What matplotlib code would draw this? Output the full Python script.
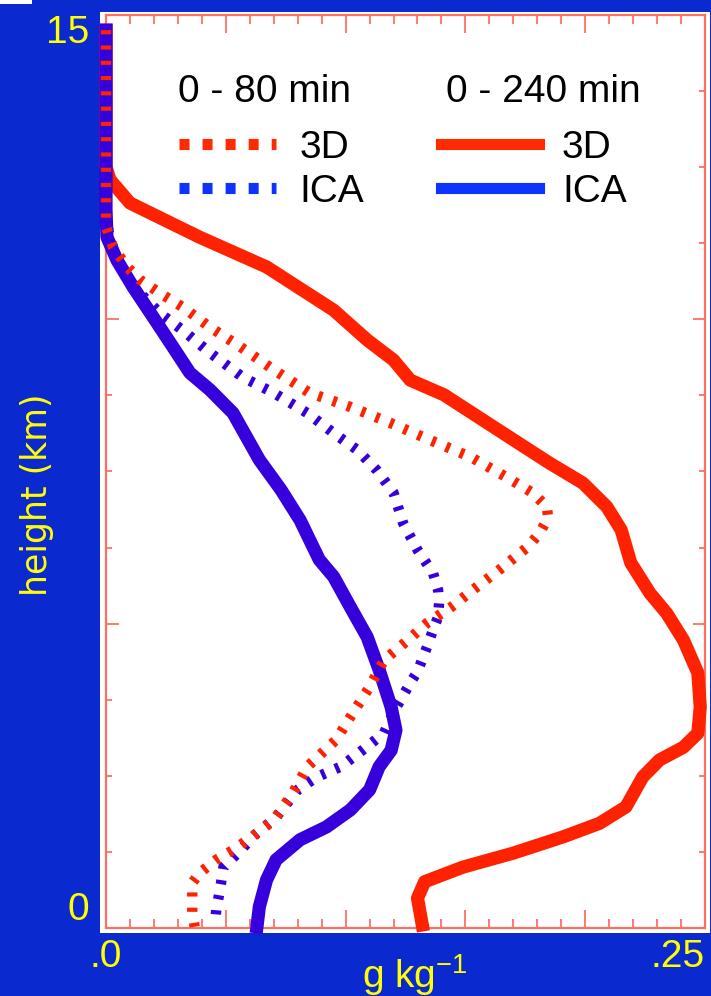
import matplotlib
matplotlib.use("Agg")
import matplotlib.pyplot as plt
from matplotlib.lines import Line2D
from matplotlib.patches import Rectangle
import numpy as np

plt.rcParams['font.family'] = ['Liberation Sans', 'DejaVu Sans']
plt.rcParams['mathtext.default'] = 'regular'
plt.rcParams['lines.scale_dashes'] = False

# mixing ratio profiles (g/kg) against height (km)
h_3d_240 = [14.75, 12.5, 12.29, 11.91, 11.35, 10.86, 10.15, 9.66, 9.33, 9.00, 8.76, 7.97, 7.64,
            7.31, 6.92, 6.54, 6.00, 5.50, 5.17, 4.73, 4.19, 3.63, 3.20, 2.97, 2.76, 2.48,
            1.99, 1.72, 1.50, 1.23, 1.00, 0.76, 0.49, 0.05]
q_3d_240 = [0.0, 0.0, 0.0017, 0.010, 0.039, 0.067, 0.095, 0.109, 0.120, 0.127, 0.141, 0.172, 0.185,
            0.199, 0.209, 0.215, 0.219, 0.227, 0.234, 0.241, 0.247, 0.248, 0.247, 0.241, 0.231, 0.224,
            0.217, 0.206, 0.191, 0.170, 0.149, 0.133, 0.130, 0.132]

h_ica_240 = [14.75, 11.80, 11.35, 10.97, 10.53, 10.04, 9.54, 9.12, 8.84, 8.46, 7.69, 7.20, 6.70,
             6.05, 5.77, 5.27, 4.78, 4.24, 3.63, 3.25, 2.92, 2.65, 2.27, 1.94, 1.66, 1.45,
             1.12, 0.79, 0.35, 0.02]
q_ica_240 = [0.0, 0.0, 0.0004, 0.0046, 0.0113, 0.0196, 0.028, 0.035, 0.0434, 0.053, 0.064, 0.073, 0.081,
             0.089, 0.095, 0.102, 0.109, 0.114, 0.119, 0.121, 0.119, 0.114, 0.110, 0.102, 0.092, 0.081,
             0.071, 0.067, 0.064, 0.063]

h_3d_80 = [14.75, 11.52, 11.19, 10.86, 10.65, 10.43, 10.20, 9.87, 9.55, 9.17, 8.79, 8.56, 8.30,
           8.02, 7.74, 7.41, 7.15, 6.92, 6.74, 6.49, 6.26, 5.88, 5.55, 5.27, 5.01, 4.73, 4.40,
           3.96, 3.53, 3.09, 2.65, 2.22, 1.77, 1.50, 1.28, 1.12, 0.90, 0.74, 0.49, 0.26, 0.02]
q_3d_80 = [0.0, 0.0, 0.0029, 0.0088, 0.0142, 0.0225, 0.032, 0.0434, 0.056, 0.070, 0.085, 0.102, 0.1185,
           0.135, 0.152, 0.167, 0.178, 0.184, 0.1845, 0.181, 0.176, 0.164, 0.153, 0.144, 0.134, 0.126, 0.116,
           0.110, 0.103, 0.096, 0.084, 0.078, 0.070, 0.061, 0.053, 0.046, 0.039, 0.036, 0.036, 0.036, 0.037]

h_ica_80 = [14.75, 11.71, 11.30, 10.81, 10.43, 10.10, 9.82, 9.45, 9.05, 8.79, 8.46, 8.13, 7.85, 7.52,
            7.15, 6.65, 6.21, 5.83, 5.55, 5.34, 5.11, 4.90, 4.62, 4.21, 4.03, 3.75, 3.55, 3.20,
            2.92, 2.65, 2.48, 2.27, 1.82, 1.56, 1.23, 1.00, 0.74, 0.51, 0.30, 0.05]
q_ica_80 = [0.0, 0.0, 0.0017, 0.0071, 0.0142, 0.0225, 0.032, 0.0434, 0.057, 0.070, 0.084, 0.095, 0.105, 0.113,
            0.120, 0.124, 0.130, 0.1365, 0.1386, 0.139, 0.1386, 0.1365, 0.134, 0.130, 0.127, 0.123, 0.120, 0.116,
            0.107, 0.098, 0.088, 0.080, 0.071, 0.063, 0.055, 0.049, 0.048, 0.047, 0.046, 0.0455]

xtick_vals = [0.0, 0.05, 0.10, 0.15, 0.20, 0.25]
xtick_labels = ['.0', '', '', '', '', '.25']
ytick_vals = [0, 5, 10, 15]
ytick_labels = ['0', '', '', '15']

BG = '#0a2ad0'
YEL = '#ffff00'
RED = '#ff2200'
BLUE = '#3600dc'
FRAME = '#ff6f61'

fig = plt.figure(figsize=(7.11, 9.96), dpi=100, facecolor=BG)
fig.patches.append(Rectangle((0.1406, 0.0633), 0.858, 0.9247, transform=fig.transFigure,
                             facecolor='white', edgecolor='none', zorder=-1))
fig.patches.append(Rectangle((0, 1 - 4 / 996), 32 / 711, 4 / 996, transform=fig.transFigure,
                             facecolor='white', edgecolor='none', zorder=-1))

ax = fig.add_axes([0.1491, 0.0683, 0.8425, 0.9167])
ax.set_facecolor('white')

dots = (0, (3.0, 8.0))
ax.plot(q_3d_240, h_3d_240, color=RED, lw=9.5, solid_joinstyle='round', clip_on=False, zorder=3)
ax.plot(q_ica_240, h_ica_240, color=BLUE, lw=9.5, solid_joinstyle='round', clip_on=False, zorder=4)
ax.plot(q_ica_80, h_ica_80, color=BLUE, lw=7.5, linestyle=dots, clip_on=False, zorder=5)
ax.plot(q_3d_80, h_3d_80, color=RED, lw=7.5, linestyle=dots, clip_on=False, zorder=6)

ax.set_xlim(0, 0.25)
ax.set_ylim(0, 15)

ax.set_xticks(xtick_vals)
ax.set_xticklabels(xtick_labels)
ax.set_xticks(np.arange(0, 0.2501, 0.01), minor=True)
ax.set_yticks(ytick_vals)
ax.set_yticklabels(ytick_labels)
ax.set_yticks(np.arange(0, 15.01, 1.25), minor=True)

ax.tick_params(axis='x', which='both', direction='in', top=True, bottom=True,
               color=FRAME, width=1.3, labelsize=28, labelcolor=YEL, pad=8)
ax.tick_params(axis='x', which='major', length=13)
ax.tick_params(axis='x', which='minor', length=6.5)
ax.tick_params(axis='y', which='both', direction='in', left=True, right=True,
               color=FRAME, width=1.3, labelsize=28, labelcolor=YEL, pad=12)
ax.tick_params(axis='y', which='major', length=9)
ax.tick_params(axis='y', which='minor', length=4.5)

xl = ax.get_xticklabels()
xl[-1].set_horizontalalignment('right')
yl = ax.get_yticklabels()
yl[0].set_verticalalignment('bottom')
yl[-1].set_verticalalignment('top')

for sp in ax.spines.values():
    sp.set_color(FRAME)
    sp.set_linewidth(1.6)

ax.set_xlabel(r'g kg$^{-1}$', fontsize=28, color=YEL, va='top')
ax.xaxis.set_label_coords(0.516, -0.026)
ax.set_ylabel('height (km)', fontsize=25, color=YEL, family='DejaVu Sans', va='center')
ax.yaxis.set_label_coords(-0.115, 0.474)

# legend: one block per averaging period, headings drawn as text
ax.text(0.12, 0.916, '0 - 80 min', transform=ax.transAxes, fontsize=28, va='center', ha='left')
ax.text(0.568, 0.916, '0 - 240 min', transform=ax.transAxes, fontsize=28, va='center', ha='left')

leg_dots = (0, (7.2, 9.4))
h80 = [Line2D([], [], color='#ff2a00', lw=8, linestyle=leg_dots),
       Line2D([], [], color='#0f33ff', lw=8, linestyle=leg_dots)]
h240 = [Line2D([], [], color='#ff2a00', lw=8),
        Line2D([], [], color='#0f33ff', lw=8)]
leg_kw = dict(frameon=False, fontsize=28, handlelength=2.5, handletextpad=0.6,
              labelspacing=0.2, borderaxespad=0, borderpad=0, loc='upper left')
leg1 = ax.legend(h80, ['3D', 'ICA'], bbox_to_anchor=(0.122, 0.874), **leg_kw)
ax.add_artist(leg1)
leg2 = ax.legend(h240, ['3D', 'ICA'], bbox_to_anchor=(0.560, 0.874), **leg_kw)

fig.savefig('out.png', dpi=100, facecolor=BG)
